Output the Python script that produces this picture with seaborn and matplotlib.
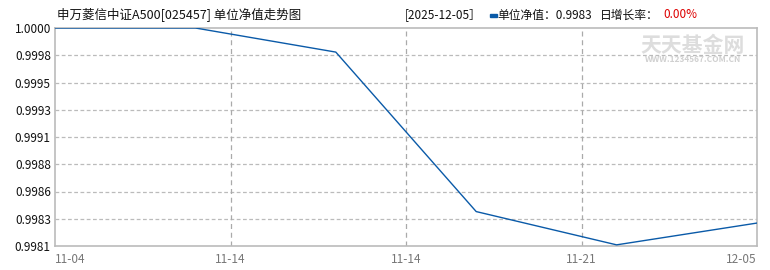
import matplotlib
matplotlib.use("Agg")
import matplotlib.pyplot as plt
import seaborn as sns
import pandas as pd
import numpy as np

# ---- data ----
point_index = [0, 1, 2, 3, 4, 5]
nav_values = [1.0000, 1.0000, 0.99979, 0.99840, 0.99811, 0.99830]
x_tick_pos = [0, 1.25, 2.5, 3.75, 5]
x_tick_labels = ["11-04", "11-14", "11-14", "11-21", "12-05"]
y_tick_labels = ["0.9981", "0.9983", "0.9986", "0.9988", "0.9991",
                 "0.9993", "0.9995", "0.9998", "1.0000"]
y_min, y_max = 0.9981, 1.0000
title_text = "申万菱信中证A500[025457] 单位净值走势图"
date_text = "[2025-12-05］"
nav_label = "单位净值：0.9983"
growth_label = "日增长率："
growth_value = "0.00%"

sns.set_theme(style="white")
plt.rcParams['font.family'] = ['Noto Sans CJK SC', 'DejaVu Sans']

W, H = 770, 270
fig = plt.figure(figsize=(W / 100, H / 100), dpi=100)
ax = fig.add_axes([55 / W, (H - 246) / H, (757 - 55) / W, (246 - 28) / H])

df = pd.DataFrame({"x": point_index, "nav": nav_values})
sns.lineplot(data=df, x="x", y="nav", ax=ax, color="#0a5aa8", linewidth=1.0, zorder=3)

ax.set_xlim(0, 5)
ax.set_ylim(y_min, y_max)
yt = np.linspace(y_min, y_max, len(y_tick_labels))
ax.set_yticks(yt)
ax.set_yticklabels(y_tick_labels, fontsize=8.5, color="#111111")
ax.set_xticks(x_tick_pos)
ax.set_xticklabels(x_tick_labels, fontsize=8.5, color="#777777")
xl = ax.get_xticklabels()
xl[0].set_ha("left")
xl[-1].set_ha("right")
ax.tick_params(axis="both", length=0, pad=3)
ax.tick_params(axis="x", pad=5)
ax.set_xlabel("")
ax.set_ylabel("")

for v in yt[1:-1]:
    ax.axhline(v, color="#bbbbbb", linewidth=0.9, linestyle=(0, (3, 2)), zorder=1)
for v in x_tick_pos[1:-1]:
    ax.axvline(v, color="#aaaaaa", linewidth=0.9, linestyle=(0, (4, 3)), zorder=1)

for s in ax.spines.values():
    s.set_visible(True)
    s.set_color("#bbbbbb")
    s.set_linewidth(1.2)

# watermark
fig.text(693 / W, 1 - 45 / H, "天天基金网", fontsize=15, color="#dddddd",
         ha="center", va="center", fontweight="bold")
fig.text(693 / W, 1 - 59 / H, "WWW.1234567.COM.CN", fontsize=6, color="#d0d0d0",
         ha="center", va="center", fontweight="bold")

# header
fig.text(57 / W, 1 - 15 / H, title_text, fontsize=9, color="#111111", ha="left", va="center")
fig.text(405 / W, 1 - 15 / H, date_text, fontsize=8.5, color="#111111", ha="left", va="center")
fig.patches.append(plt.Rectangle((490 / W, 1 - 16.5 / H), 7 / W, 3 / H,
                                 transform=fig.transFigure, color="#0a5aa8"))
fig.text(497 / W, 1 - 15 / H, nav_label, fontsize=8.5, color="#111111", ha="left", va="center")
fig.text(600 / W, 1 - 15 / H, growth_label, fontsize=8.5, color="#111111", ha="left", va="center")
fig.text(663 / W, 1 - 15 / H, growth_value, fontsize=8.5, color="#dd0000", ha="left", va="center")

fig.savefig("out.png", dpi=100)
